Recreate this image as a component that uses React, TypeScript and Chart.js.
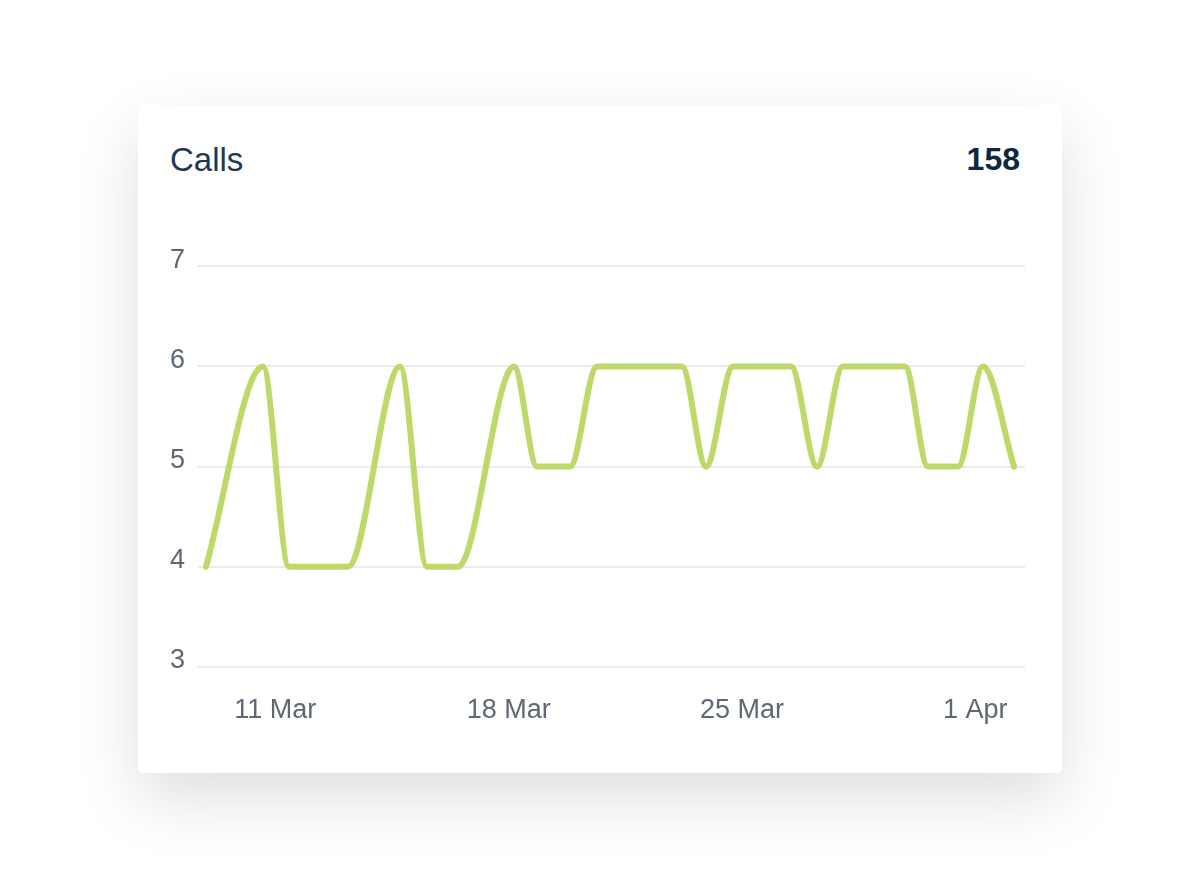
import React, { useEffect, useRef } from 'react';
import { Chart, registerables } from 'chart.js';

Chart.register(...registerables);

// Day-of-March positions (fractional, timestamps) and call counts
const xDays = [8.92, 10.63, 11.41, 13.18, 14.74, 15.55, 16.48, 18.16, 18.85, 19.84, 20.65, 23.2, 23.92, 24.73, 26.47, 27.25, 28.03, 29.89, 30.58, 31.48, 32.23, 33.16];
const callValues = [4, 6, 4, 4, 6, 4, 4, 6, 5, 5, 6, 6, 5, 6, 6, 5, 6, 6, 5, 5, 6, 5];
const tickDays = [11, 18, 25, 32];
const tickLabels = ['11 Mar', '18 Mar', '25 Mar', '1 Apr'];
const yMin = 3;
const yMax = 7;
const xMin = 8.68;
const xMax = 33.49;
const title = 'Calls';
const total = '158';

const FONT = '"Liberation Sans", Arial, Helvetica, sans-serif';

export default function App() {
  const ref = useRef<HTMLCanvasElement | null>(null);

  useEffect(() => {
    if (!ref.current) return;
    const chart = new Chart(ref.current, {
      type: 'line',
      data: {
        datasets: [
          {
            data: xDays.map((x, i) => ({ x, y: callValues[i] })),
            borderColor: '#bfd86a',
            borderWidth: 6,
            pointRadius: 0,
            pointHoverRadius: 0,
            cubicInterpolationMode: 'monotone',
            fill: false,
            borderCapStyle: 'round',
            borderJoinStyle: 'round',
          },
        ],
      },
      options: {
        animation: false,
        responsive: false,
        maintainAspectRatio: false,
        layout: { padding: { top: 3, right: 25, left: 0, bottom: 0 } },
        plugins: { legend: { display: false }, tooltip: { enabled: false } },
        scales: {
          x: {
            type: 'linear',
            min: xMin,
            max: xMax,
            grid: { display: false, drawTicks: false },
            border: { display: false },
            afterBuildTicks: (s: any) => {
              s.ticks = tickDays.map((v) => ({ value: v }));
            },
            afterFit: (s: any) => {
              s.height = 83;
            },
            ticks: {
              autoSkip: false,
              maxRotation: 0,
              padding: 27,
              color: '#5d6874',
              font: { family: FONT, size: 27 },
              callback: (v: any) => {
                const i = tickDays.indexOf(Number(v));
                return i >= 0 ? tickLabels[i] : '';
              },
            },
          },
          y: {
            min: yMin,
            max: yMax,
            grid: { color: '#ececf0', lineWidth: 2, drawTicks: false },
            border: { display: false },
            afterFit: (s: any) => {
              s.width = 48;
            },
            ticks: {
              stepSize: 1,
              padding: 13,
              labelOffset: -6,
              color: '#5d6874',
              font: { family: FONT, size: 27 },
            },
          },
        },
      },
    });
    return () => chart.destroy();
  }, []);

  return (
    <div style={{ position: 'absolute', left: 0, top: 0, width: 1200, height: 880, background: '#fff', overflow: 'hidden' }}>
      <div
        style={{
          position: 'absolute',
          left: 138,
          top: 105,
          width: 924,
          height: 668,
          background: '#fff',
          borderRadius: 4,
          boxShadow: '0 26px 64px rgba(0,0,0,0.13)',
        }}
      />
      <div
        style={{
          position: 'absolute',
          left: 170,
          top: 143,
          fontFamily: FONT,
          fontSize: 33,
          lineHeight: '33px',
          color: '#1f3852',
        }}
      >
        {title}
      </div>
      <div
        style={{
          position: 'absolute',
          right: 180,
          top: 143,
          fontFamily: FONT,
          fontSize: 32,
          lineHeight: '33px',
          fontWeight: 700,
          color: '#0f2841',
        }}
      >
        {total}
      </div>
      <canvas
        ref={ref}
        width={900}
        height={513}
        style={{ position: 'absolute', left: 150, top: 237, width: 900, height: 513 }}
      />
    </div>
  );
}
